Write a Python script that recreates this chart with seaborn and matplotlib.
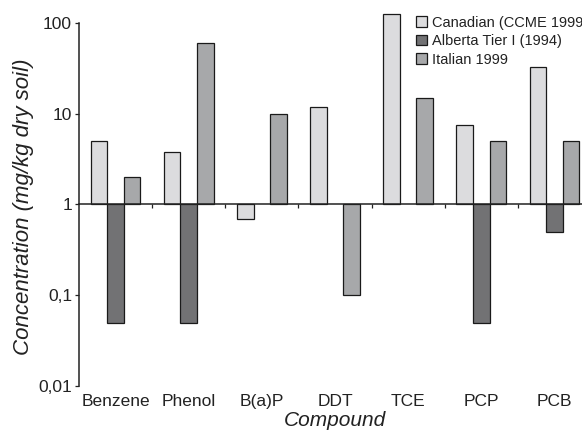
import numpy as np
import pandas as pd
import matplotlib
matplotlib.use("Agg")
import matplotlib.pyplot as plt
from matplotlib.patches import Patch
from matplotlib.ticker import FixedLocator, NullLocator
import seaborn as sns

compounds = ["Benzene", "Phenol", "B(a)P", "DDT", "TCE", "PCP", "PCB"]
standards = ["Canadian (CCME 1999)", "Alberta Tier I (1994)", "Italian 1999"]
canadian = [5, 3.8, 0.7, 12, 125, 7.6, 33]
alberta = [0.05, 0.05, np.nan, np.nan, np.nan, 0.05, 0.5]
italian = [2, 60, 10, 0.1, 15, 5, 5]
ytick_vals = [0.01, 0.1, 1, 10, 100]
ytick_labels = ["0,01", "0,1", "1", "10", "100"]
colors = ["#dcdcde", "#727274", "#a7a8aa"]

rows = []
for name, vals in zip(standards, [canadian, alberta, italian]):
    for c, v in zip(compounds, vals):
        rows.append({"Compound": c, "Standard": name, "value": v})
df = pd.DataFrame(rows).dropna()
df["height"] = df["value"] - 1.0  # bars drawn from baseline 1

sns.set_style("ticks")
plt.rcParams["font.family"] = ["Liberation Sans", "DejaVu Sans"]
txt = "#222222"

fig = plt.figure(figsize=(5.82, 4.32), dpi=100)
ax = fig.add_axes([79 / 582, 1 - 386 / 432, 512 / 582, 379 / 432])

sns.barplot(data=df, x="Compound", y="height", hue="Standard",
            order=compounds, hue_order=standards, palette=colors,
            width=0.68, bottom=1, edgecolor="#1a1a1a", linewidth=0.9,
            errorbar=None, legend=False, ax=ax)

ax.set_yscale("log")
ax.set_ylim(0.01, 150)
ax.set_xlim(-0.5, 6.5)
ax.yaxis.set_major_locator(FixedLocator(ytick_vals))
ax.set_yticklabels(ytick_labels)
ax.yaxis.set_minor_locator(NullLocator())
ax.tick_params(axis="y", direction="out", length=3, width=0.9, colors=txt,
               labelsize=12.5, pad=2)

for s in ["top", "right"]:
    ax.spines[s].set_visible(False)
ax.spines["left"].set_bounds(0.01, 100)
ax.spines["left"].set_linewidth(1.1)
ax.spines["left"].set_color(txt)
ax.spines["bottom"].set_position(("data", 1))
ax.spines["bottom"].set_linewidth(1.1)
ax.spines["bottom"].set_color(txt)

ax.set_xticks([i + 0.5 for i in range(len(compounds))])
ax.set_xticklabels([])
ax.tick_params(axis="x", direction="out", length=3, width=0.9, colors=txt)
ax.set_xlabel("")
ax.set_ylabel("Concentration (mg/kg dry soil)", fontsize=16, style="italic",
              color=txt)
ax.yaxis.set_label_coords(-0.088, 0.472)

sec = ax.secondary_xaxis("bottom")
sec.set_xticks(range(len(compounds)))
sec.set_xticklabels(compounds)
sec.tick_params(length=0, labelsize=12.5, colors=txt, pad=6)
sec.spines["bottom"].set_visible(False)
sec.set_xlabel("Compound", fontsize=15, style="italic", color=txt, labelpad=1)

handles = [Patch(facecolor=c, edgecolor="#1a1a1a", linewidth=0.9) for c in colors]
fig.legend(handles, standards, loc="upper left",
           bbox_to_anchor=(416 / 582, 1 - 15.5 / 432), bbox_transform=fig.transFigure,
           frameon=False, fontsize=10.5, borderpad=0, borderaxespad=0,
           handlelength=0.75, handleheight=0.75, handletextpad=0.35,
           labelspacing=0.32, labelcolor=txt)

fig.savefig("out.png", dpi=100)
